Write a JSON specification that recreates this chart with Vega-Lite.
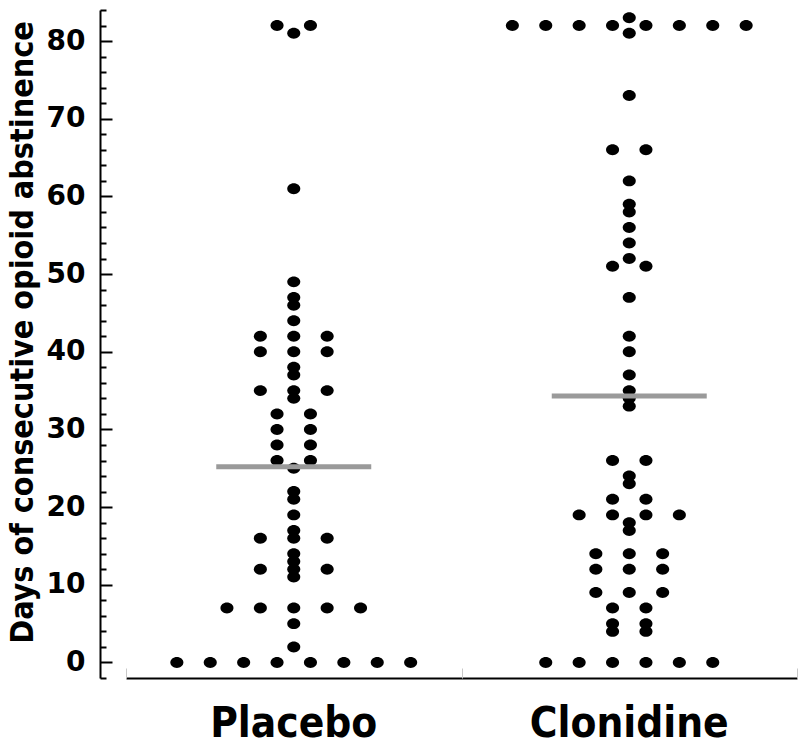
{
  "$schema": "https://vega.github.io/schema/vega-lite/v6.json",
  "width": 671,
  "height": 668,
  "autosize": "none",
  "padding": {"left": 126, "top": 10, "right": 3, "bottom": 71},
  "background": "white",
  "config": {"view": {"stroke": null}, "axis": {"grid": false}},
  "datasets": {
    "obs": [
      {"group": "Placebo", "days": 82, "slot": -0.5},
      {"group": "Placebo", "days": 82, "slot": 0.5},
      {"group": "Placebo", "days": 81, "slot": 0},
      {"group": "Placebo", "days": 61, "slot": 0},
      {"group": "Placebo", "days": 49, "slot": 0},
      {"group": "Placebo", "days": 47, "slot": 0},
      {"group": "Placebo", "days": 46, "slot": 0},
      {"group": "Placebo", "days": 44, "slot": 0},
      {"group": "Placebo", "days": 42, "slot": -1},
      {"group": "Placebo", "days": 42, "slot": 0},
      {"group": "Placebo", "days": 42, "slot": 1},
      {"group": "Placebo", "days": 40, "slot": -1},
      {"group": "Placebo", "days": 40, "slot": 0},
      {"group": "Placebo", "days": 40, "slot": 1},
      {"group": "Placebo", "days": 38, "slot": 0},
      {"group": "Placebo", "days": 37, "slot": 0},
      {"group": "Placebo", "days": 35, "slot": -1},
      {"group": "Placebo", "days": 35, "slot": 0},
      {"group": "Placebo", "days": 35, "slot": 1},
      {"group": "Placebo", "days": 34, "slot": 0},
      {"group": "Placebo", "days": 32, "slot": -0.5},
      {"group": "Placebo", "days": 32, "slot": 0.5},
      {"group": "Placebo", "days": 30, "slot": -0.5},
      {"group": "Placebo", "days": 30, "slot": 0.5},
      {"group": "Placebo", "days": 28, "slot": -0.5},
      {"group": "Placebo", "days": 28, "slot": 0.5},
      {"group": "Placebo", "days": 26, "slot": -0.5},
      {"group": "Placebo", "days": 26, "slot": 0.5},
      {"group": "Placebo", "days": 25, "slot": 0},
      {"group": "Placebo", "days": 22, "slot": 0},
      {"group": "Placebo", "days": 21, "slot": 0},
      {"group": "Placebo", "days": 19, "slot": 0},
      {"group": "Placebo", "days": 17, "slot": 0},
      {"group": "Placebo", "days": 16, "slot": -1},
      {"group": "Placebo", "days": 16, "slot": 0},
      {"group": "Placebo", "days": 16, "slot": 1},
      {"group": "Placebo", "days": 14, "slot": 0},
      {"group": "Placebo", "days": 13, "slot": 0},
      {"group": "Placebo", "days": 12, "slot": -1},
      {"group": "Placebo", "days": 12, "slot": 0},
      {"group": "Placebo", "days": 12, "slot": 1},
      {"group": "Placebo", "days": 11, "slot": 0},
      {"group": "Placebo", "days": 7, "slot": -2},
      {"group": "Placebo", "days": 7, "slot": -1},
      {"group": "Placebo", "days": 7, "slot": 0},
      {"group": "Placebo", "days": 7, "slot": 1},
      {"group": "Placebo", "days": 7, "slot": 2},
      {"group": "Placebo", "days": 5, "slot": 0},
      {"group": "Placebo", "days": 2, "slot": 0},
      {"group": "Placebo", "days": 0, "slot": -3.5},
      {"group": "Placebo", "days": 0, "slot": -2.5},
      {"group": "Placebo", "days": 0, "slot": -1.5},
      {"group": "Placebo", "days": 0, "slot": -0.5},
      {"group": "Placebo", "days": 0, "slot": 0.5},
      {"group": "Placebo", "days": 0, "slot": 1.5},
      {"group": "Placebo", "days": 0, "slot": 2.5},
      {"group": "Placebo", "days": 0, "slot": 3.5},
      {"group": "Clonidine", "days": 83, "slot": 0},
      {"group": "Clonidine", "days": 82, "slot": -3.5},
      {"group": "Clonidine", "days": 82, "slot": -2.5},
      {"group": "Clonidine", "days": 82, "slot": -1.5},
      {"group": "Clonidine", "days": 82, "slot": -0.5},
      {"group": "Clonidine", "days": 82, "slot": 0.5},
      {"group": "Clonidine", "days": 82, "slot": 1.5},
      {"group": "Clonidine", "days": 82, "slot": 2.5},
      {"group": "Clonidine", "days": 82, "slot": 3.5},
      {"group": "Clonidine", "days": 81, "slot": 0},
      {"group": "Clonidine", "days": 73, "slot": 0},
      {"group": "Clonidine", "days": 66, "slot": -0.5},
      {"group": "Clonidine", "days": 66, "slot": 0.5},
      {"group": "Clonidine", "days": 62, "slot": 0},
      {"group": "Clonidine", "days": 59, "slot": 0},
      {"group": "Clonidine", "days": 58, "slot": 0},
      {"group": "Clonidine", "days": 56, "slot": 0},
      {"group": "Clonidine", "days": 54, "slot": 0},
      {"group": "Clonidine", "days": 52, "slot": 0},
      {"group": "Clonidine", "days": 51, "slot": -0.5},
      {"group": "Clonidine", "days": 51, "slot": 0.5},
      {"group": "Clonidine", "days": 47, "slot": 0},
      {"group": "Clonidine", "days": 42, "slot": 0},
      {"group": "Clonidine", "days": 40, "slot": 0},
      {"group": "Clonidine", "days": 37, "slot": 0},
      {"group": "Clonidine", "days": 35, "slot": 0},
      {"group": "Clonidine", "days": 34, "slot": 0},
      {"group": "Clonidine", "days": 33, "slot": 0},
      {"group": "Clonidine", "days": 26, "slot": -0.5},
      {"group": "Clonidine", "days": 26, "slot": 0.5},
      {"group": "Clonidine", "days": 24, "slot": 0},
      {"group": "Clonidine", "days": 23, "slot": 0},
      {"group": "Clonidine", "days": 21, "slot": -0.5},
      {"group": "Clonidine", "days": 21, "slot": 0.5},
      {"group": "Clonidine", "days": 19, "slot": -1.5},
      {"group": "Clonidine", "days": 19, "slot": -0.5},
      {"group": "Clonidine", "days": 19, "slot": 0.5},
      {"group": "Clonidine", "days": 19, "slot": 1.5},
      {"group": "Clonidine", "days": 18, "slot": 0},
      {"group": "Clonidine", "days": 17, "slot": 0},
      {"group": "Clonidine", "days": 14, "slot": -1},
      {"group": "Clonidine", "days": 14, "slot": 0},
      {"group": "Clonidine", "days": 14, "slot": 1},
      {"group": "Clonidine", "days": 12, "slot": -1},
      {"group": "Clonidine", "days": 12, "slot": 0},
      {"group": "Clonidine", "days": 12, "slot": 1},
      {"group": "Clonidine", "days": 9, "slot": -1},
      {"group": "Clonidine", "days": 9, "slot": 0},
      {"group": "Clonidine", "days": 9, "slot": 1},
      {"group": "Clonidine", "days": 7, "slot": -0.5},
      {"group": "Clonidine", "days": 7, "slot": 0.5},
      {"group": "Clonidine", "days": 5, "slot": -0.5},
      {"group": "Clonidine", "days": 5, "slot": 0.5},
      {"group": "Clonidine", "days": 4, "slot": -0.5},
      {"group": "Clonidine", "days": 4, "slot": 0.5},
      {"group": "Clonidine", "days": 0, "slot": -2.5},
      {"group": "Clonidine", "days": 0, "slot": -1.5},
      {"group": "Clonidine", "days": 0, "slot": -0.5},
      {"group": "Clonidine", "days": 0, "slot": 0.5},
      {"group": "Clonidine", "days": 0, "slot": 1.5},
      {"group": "Clonidine", "days": 0, "slot": 2.5}
    ],
    "means": [
      {"group": "Placebo", "mean": 25.2},
      {"group": "Clonidine", "mean": 34.3}
    ]
  },
  "layer": [
    {
      "data": {"name": "obs"},
      "mark": {
        "type": "point",
        "shape": "M-1,0A1,0.84,0,1,0,1,0A1,0.84,0,1,0,-1,0Z",
        "filled": true,
        "color": "black",
        "opacity": 1,
        "size": 170,
        "strokeWidth": 0
      },
      "encoding": {
        "x": {
          "field": "group",
          "type": "nominal",
          "sort": ["Placebo", "Clonidine"],
          "scale": {"domain": ["Placebo", "Clonidine"], "paddingInner": 0, "paddingOuter": 0},
          "axis": {
            "orient": "bottom",
            "title": null,
            "labelAngle": 0,
            "labelFont": "DejaVu Sans Condensed",
            "labelFontSize": 42,
            "labelFontWeight": "bold",
            "labelColor": "black",
            "labelPadding": 25,
            "labelLimit": 0,
            "ticks": false,
            "domainColor": "black",
            "domainWidth": 2
          }
        },
        "xOffset": {
          "field": "slot",
          "type": "quantitative",
          "scale": {"domain": [-5.0225, 5.0225], "range": [0, 335.5]}
        },
        "y": {
          "field": "days",
          "type": "quantitative",
          "scale": {"domain": [-2, 84], "nice": false, "zero": false},
          "axis": {
            "orient": "left",
            "offset": 26,
            "values": [0, 10, 20, 30, 40, 50, 60, 70, 80],
            "tickSize": -12,
            "tickWidth": 2,
            "tickColor": "black",
            "labelPadding": 27,
            "labelFont": "DejaVu Sans",
            "labelFontSize": 28,
            "labelFontWeight": "bold",
            "labelColor": "black",
            "domainColor": "black",
            "domainWidth": 2,
            "title": "Days of consecutive opioid abstinence",
            "titleFont": "DejaVu Sans Condensed",
            "titleFontSize": 32,
            "titleFontWeight": "bold",
            "titleColor": "black",
            "titleX": -78,
            "titleY": 322,
            "titleAngle": -90,
            "titleAlign": "center",
            "titleBaseline": "middle",
            "titleLimit": 0
          }
        }
      }
    },
    {
      "data": {"name": "means"},
      "mark": {"type": "tick", "color": "#9a9a9a", "thickness": 5, "size": 155, "opacity": 1, "orient": "horizontal"},
      "encoding": {
        "x": {
          "field": "group",
          "type": "nominal",
          "sort": ["Placebo", "Clonidine"],
          "axis": {
            "orient": "bottom",
            "title": null,
            "labels": false,
            "domain": false,
            "tickBand": "extent",
            "tickSize": -10,
            "tickWidth": 1,
            "tickColor": "#c8c8c8"
          }
        },
        "y": {
          "field": "mean",
          "type": "quantitative",
          "axis": {
            "orient": "left",
            "offset": 26,
            "title": null,
            "labels": false,
            "domain": false,
            "values": [-2, 2, 4, 6, 8, 12, 14, 16, 18, 22, 24, 26, 28, 32, 34, 36, 38, 42, 44, 46, 48, 52, 54, 56, 58, 62, 64, 66, 68, 72, 74, 76, 78, 82, 84],
            "tickSize": -6,
            "tickWidth": 2,
            "tickColor": "black"
          }
        }
      }
    }
  ],
  "resolve": {"axis": {"x": "independent", "y": "independent"}}
}
